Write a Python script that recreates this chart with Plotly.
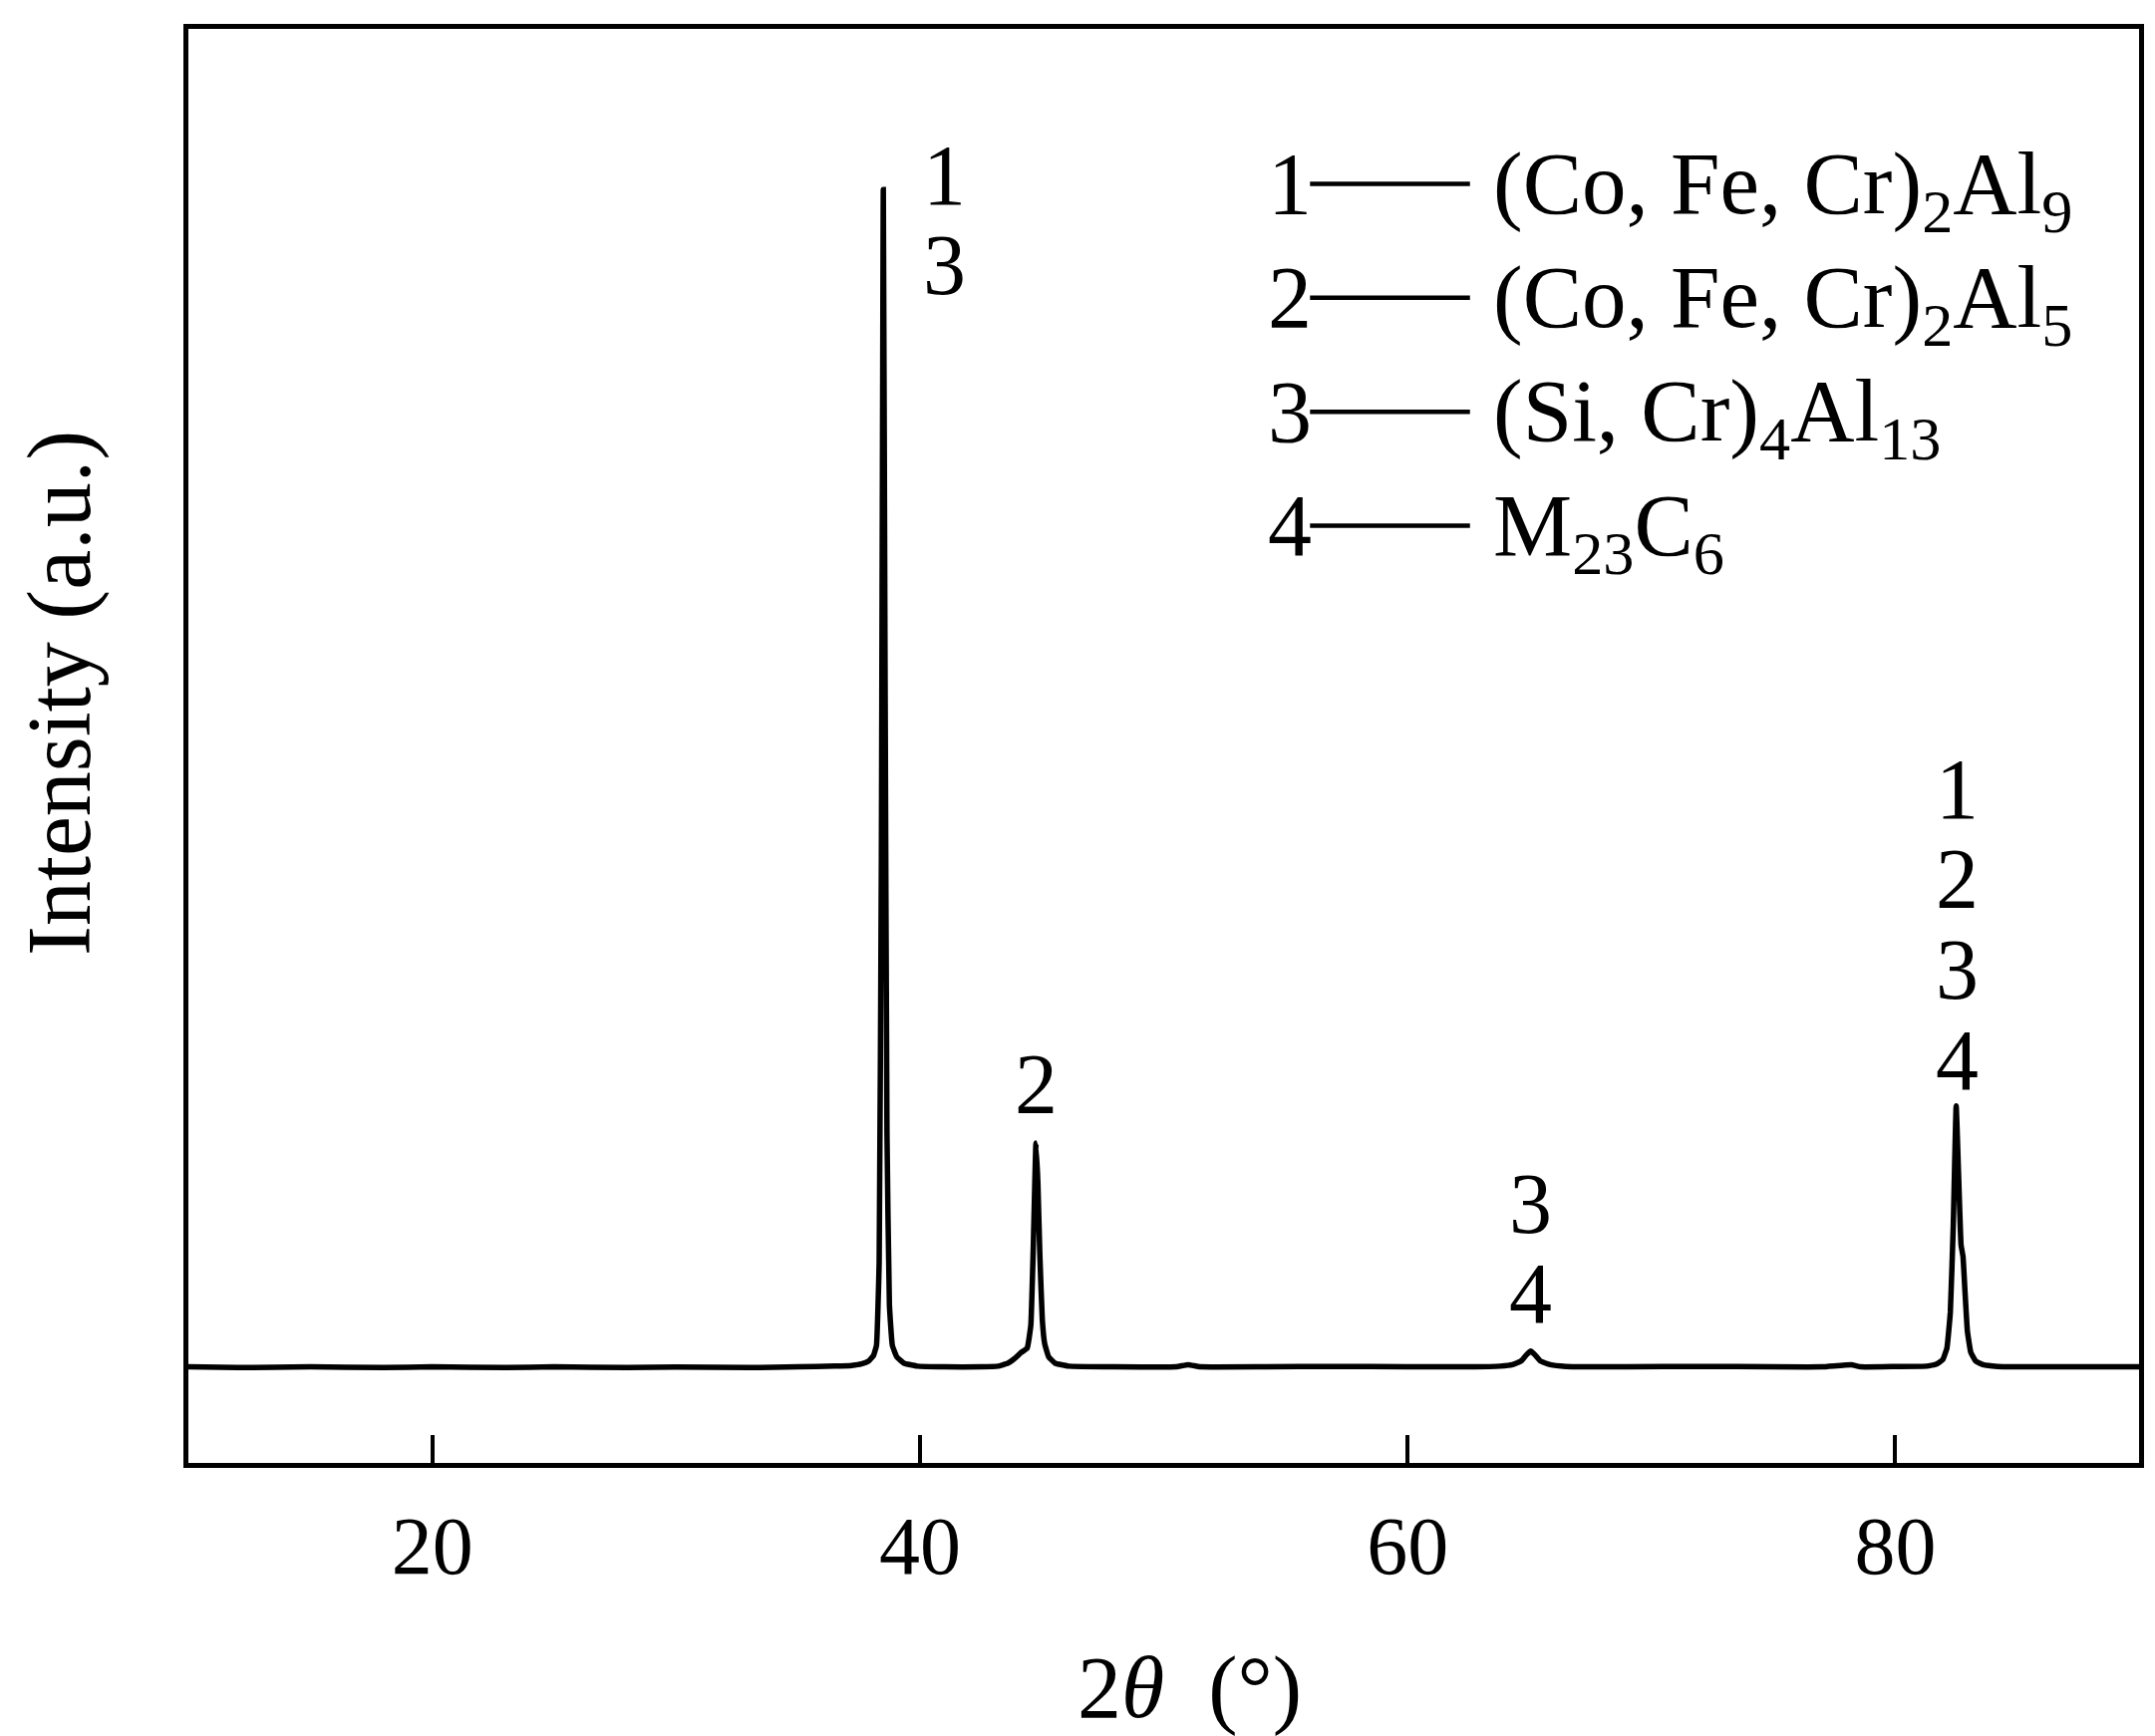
import plotly.graph_objects as go

# ---- data (2θ in degrees, intensity in arbitrary units) ----
two_theta = [10.0, 12.0, 15.0, 18.0, 20.0, 23.0, 25.0, 28.0, 30.0, 33.0, 35.0, 36.5, 37.2, 37.6, 37.9,
             38.1, 38.22, 38.33, 38.42, 38.5, 38.57, 38.65, 38.75, 38.87, 39.05, 39.35, 39.9, 41.0,
             42.5, 43.2, 43.6, 43.9, 44.15, 44.4, 44.55, 44.65, 44.76, 44.84, 44.92, 45.02,
             45.12, 45.28, 45.55, 46.1, 48.0, 50.5, 51.0, 51.5, 54.0, 57.0, 60.0, 62.5, 63.8,
             64.3, 64.65, 64.88, 65.05, 65.22, 65.45, 65.85, 66.5, 69.0, 72.0, 75.0, 77.0, 78.2,
             78.6, 80.0, 81.3, 81.7, 81.95, 82.12, 82.26, 82.38, 82.5, 82.6, 82.7, 82.78, 82.86,
             82.96, 83.1, 83.3, 83.6, 84.2, 86.0, 88.0, 90.0]
intensity = [67.0, 66.5, 67.0, 66.5, 67.0, 66.5, 67.0, 66.5, 66.8, 66.5, 67.0, 67.5, 68.0, 69.0, 71.0,
             75.0, 82.0, 140.0, 420.0, 888.0, 560.0, 230.0, 110.0, 82.0, 74.0, 69.5, 67.5, 67.0,
             67.0, 67.5, 69.5, 73.0, 77.0, 80.0, 96.0, 150.0, 223.0, 195.0, 145.0, 100.0,
             83.0, 74.0, 69.5, 67.5, 67.0, 67.0, 68.5, 67.0, 67.0, 67.3, 67.0, 67.0, 67.5,
             68.5, 71.0, 75.5, 78.0, 75.5, 71.0, 68.5, 67.3, 67.0, 67.3, 67.0, 67.0, 68.5,
             67.0, 67.2, 67.5, 69.0, 72.0, 80.0, 105.0, 165.0, 249.0, 200.0, 152.0, 144.0, 120.0,
             92.0, 77.0, 71.0, 68.5, 67.3, 67.0, 67.0, 67.0]

# peak identification labels
peak_label_x = [41.0, 44.78, 65.05, 82.53]
peak_labels = [["1", "3"], ["2"], ["3", "4"], ["1", "2", "3", "4"]]
peak_label_top = [898, 264, 181, 470]   # intensity at the centre of the first label

# legend of phases
phase_numbers = ["1", "2", "3", "4"]
phase_names = ["(Co, Fe, Cr)<sub>2</sub>Al<sub>9</sub>",
               "(Co, Fe, Cr)<sub>2</sub>Al<sub>5</sub>",
               "(Si, Cr)<sub>4</sub>Al<sub>13</sub>",
               "M<sub>23</sub>C<sub>6</sub>"]

x_ticks = [20, 40, 60, 80]
x_range = [10, 90]
y_range = [0, 1000]

FONT = "Liberation Serif, Times New Roman, serif"

fig = go.Figure()
fig.add_trace(go.Scatter(x=two_theta, y=intensity, mode="lines",
                         line=dict(color="black", width=5.5, shape="spline", smoothing=0.3),
                         showlegend=False, hoverinfo="skip"))

annotations = []
label_step = 63
for px, labs, ytop in zip(peak_label_x, peak_labels, peak_label_top):
    for i, lab in enumerate(labs):
        annotations.append(dict(x=px, y=ytop - i * label_step, xref="x", yref="y",
                                text=lab, showarrow=False, xanchor="center", yanchor="middle",
                                font=dict(family=FONT, size=86, color="black")))

leg_y0 = 0.892
leg_dy = 0.0795
shapes = []
for i, (num, name) in enumerate(zip(phase_numbers, phase_names)):
    yy = leg_y0 - i * leg_dy
    annotations.append(dict(x=0.577, y=yy, xref="paper", yref="paper", text=num,
                            showarrow=False, xanchor="right", yanchor="middle",
                            font=dict(family=FONT, size=88, color="black")))
    shapes.append(dict(type="line", xref="paper", yref="paper", x0=0.575, x1=0.657,
                       y0=yy, y1=yy, line=dict(color="black", width=4.5)))
    annotations.append(dict(x=0.668, y=yy - 0.004, xref="paper", yref="paper", text=name,
                            showarrow=False, xanchor="left", yanchor="middle",
                            font=dict(family=FONT, size=89, color="black")))

# axis titles
annotations.append(dict(x=0.5135, y=-0.157, xref="paper", yref="paper",
                        text="2<i>θ</i>  (°)", showarrow=False, xanchor="center", yanchor="middle",
                        font=dict(family=FONT, size=88, color="black")))
annotations.append(dict(x=-0.066, y=0.537, xref="paper", yref="paper",
                        text="Intensity (a.u.)", showarrow=False, textangle=-90,
                        xanchor="center", yanchor="middle",
                        font=dict(family=FONT, size=90, color="black")))

fig.update_layout(
    width=2162, height=1742,
    margin=dict(l=181, r=24, t=21, b=282),
    paper_bgcolor="white", plot_bgcolor="white",
    annotations=annotations, shapes=shapes,
    showlegend=False,
    font=dict(family=FONT, color="black"),
)
fig.update_xaxes(range=x_range, tickvals=x_ticks, ticks="inside", ticklen=28, tickwidth=3.5,
                 tickcolor="black", showline=True, linecolor="black", linewidth=5, mirror=True,
                 showgrid=False, zeroline=False, ticklabelstandoff=8,
                 tickfont=dict(family=FONT, size=82, color="black"))
fig.update_yaxes(range=y_range, showticklabels=False, ticks="", showline=True,
                 linecolor="black", linewidth=5, mirror=True, showgrid=False, zeroline=False)

fig.write_html("out.html")
